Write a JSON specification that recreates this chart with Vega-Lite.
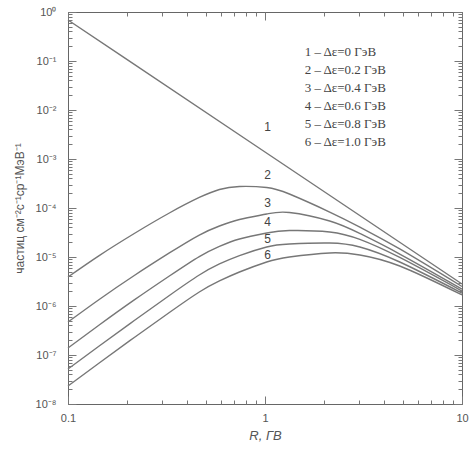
{
  "$schema": "https://vega.github.io/schema/vega-lite/v6.json",
  "width": 394,
  "height": 392,
  "autosize": "none",
  "padding": {"left": 68, "top": 12, "right": 11, "bottom": 48},
  "background": "white",
  "config": {
    "view": {"stroke": "#666", "strokeWidth": 1},
    "axis": {"grid": false, "domain": false, "labelOverlap": false, "labelFlush": false, "labelBound": false, "labelFont": "Liberation Sans", "labelFontSize": 11, "labelColor": "#555", "titleFont": "Liberation Sans", "titleFontWeight": "normal", "titleColor": "#555", "titleFontSize": 12}
  },
  "datasets": {
    "curves": [
      {"curve": 1, "R": 0.1, "v": 0.687},
      {"curve": 1, "R": 1, "v": 0.00139},
      {"curve": 1, "R": 10, "v": 0.00000281},
      {"curve": 2, "R": 0.1, "v": 3.91e-6},
      {"curve": 2, "R": 0.144, "v": 1.07e-5},
      {"curve": 2, "R": 0.217, "v": 3.02e-5},
      {"curve": 2, "R": 0.327, "v": 7.91e-5},
      {"curve": 2, "R": 0.464, "v": 1.64e-4},
      {"curve": 2, "R": 0.587, "v": 2.39e-4},
      {"curve": 2, "R": 0.742, "v": 2.75e-4},
      {"curve": 2, "R": 1.02, "v": 2.62e-4},
      {"curve": 2, "R": 1.33, "v": 1.93e-4},
      {"curve": 2, "R": 2.13, "v": 8.28e-5},
      {"curve": 2, "R": 3.03, "v": 4.09e-5},
      {"curve": 2, "R": 4.83, "v": 1.46e-5},
      {"curve": 2, "R": 10, "v": 2.50e-6},
      {"curve": 3, "R": 0.1, "v": 4.71e-7},
      {"curve": 3, "R": 0.144, "v": 1.36e-6},
      {"curve": 3, "R": 0.217, "v": 4.19e-6},
      {"curve": 3, "R": 0.327, "v": 1.21e-5},
      {"curve": 3, "R": 0.464, "v": 2.81e-5},
      {"curve": 3, "R": 0.587, "v": 4.29e-5},
      {"curve": 3, "R": 0.742, "v": 5.82e-5},
      {"curve": 3, "R": 1.02, "v": 7.55e-5},
      {"curve": 3, "R": 1.33, "v": 8.10e-5},
      {"curve": 3, "R": 2.13, "v": 5.43e-5},
      {"curve": 3, "R": 3.03, "v": 3.02e-5},
      {"curve": 3, "R": 4.83, "v": 1.15e-5},
      {"curve": 3, "R": 10, "v": 2.22e-6},
      {"curve": 4, "R": 0.1, "v": 1.39e-7},
      {"curve": 4, "R": 0.144, "v": 4.09e-7},
      {"curve": 4, "R": 0.217, "v": 1.33e-6},
      {"curve": 4, "R": 0.327, "v": 4.09e-6},
      {"curve": 4, "R": 0.464, "v": 1.02e-5},
      {"curve": 4, "R": 0.587, "v": 1.64e-5},
      {"curve": 4, "R": 0.742, "v": 2.33e-5},
      {"curve": 4, "R": 1.02, "v": 3.09e-5},
      {"curve": 4, "R": 1.33, "v": 3.47e-5},
      {"curve": 4, "R": 2.13, "v": 3.24e-5},
      {"curve": 4, "R": 3.03, "v": 2.28e-5},
      {"curve": 4, "R": 4.83, "v": 9.77e-6},
      {"curve": 4, "R": 10, "v": 2.02e-6},
      {"curve": 5, "R": 0.1, "v": 5.18e-8},
      {"curve": 5, "R": 0.144, "v": 1.53e-7},
      {"curve": 5, "R": 0.217, "v": 5.06e-7},
      {"curve": 5, "R": 0.327, "v": 1.64e-6},
      {"curve": 5, "R": 0.464, "v": 4.29e-6},
      {"curve": 5, "R": 0.587, "v": 7.20e-6},
      {"curve": 5, "R": 0.742, "v": 1.07e-5},
      {"curve": 5, "R": 1.02, "v": 1.60e-5},
      {"curve": 5, "R": 1.33, "v": 1.84e-5},
      {"curve": 5, "R": 2.13, "v": 1.93e-5},
      {"curve": 5, "R": 3.03, "v": 1.60e-5},
      {"curve": 5, "R": 4.83, "v": 7.91e-6},
      {"curve": 5, "R": 10, "v": 1.84e-6},
      {"curve": 6, "R": 0.1, "v": 2.33e-8},
      {"curve": 6, "R": 0.144, "v": 6.87e-8},
      {"curve": 6, "R": 0.217, "v": 2.28e-7},
      {"curve": 6, "R": 0.327, "v": 7.36e-7},
      {"curve": 6, "R": 0.464, "v": 1.93e-6},
      {"curve": 6, "R": 0.587, "v": 3.24e-6},
      {"curve": 6, "R": 0.742, "v": 4.94e-6},
      {"curve": 6, "R": 1.02, "v": 7.91e-6},
      {"curve": 6, "R": 1.33, "v": 1.00e-5},
      {"curve": 6, "R": 2.13, "v": 1.21e-5},
      {"curve": 6, "R": 3.03, "v": 1.10e-5},
      {"curve": 6, "R": 4.83, "v": 6.55e-6},
      {"curve": 6, "R": 10, "v": 1.68e-6}
    ],
    "labels": [
      {"t": "1", "R": 1.03, "v": 0.0045},
      {"t": "2", "R": 1.03, "v": 0.000471},
      {"t": "3", "R": 1.03, "v": 0.000126},
      {"t": "4", "R": 1.03, "v": 0.0000518},
      {"t": "5", "R": 1.03, "v": 0.0000233},
      {"t": "6", "R": 1.03, "v": 0.000011}
    ],
    "legend": [
      {"t": "1 – Δε=0 ГэВ", "R": 1.59, "v": 0.153},
      {"t": "2 – Δε=0.2 ГэВ", "R": 1.59, "v": 0.0655},
      {"t": "3 – Δε=0.4 ГэВ", "R": 1.59, "v": 0.0281},
      {"t": "4 – Δε=0.6 ГэВ", "R": 1.59, "v": 0.0121},
      {"t": "5 – Δε=0.8 ГэВ", "R": 1.59, "v": 0.00518},
      {"t": "6 – Δε=1.0 ГэВ", "R": 1.59, "v": 0.00222}
    ]
  },
  "layer": [
    {
      "data": {"name": "curves"},
      "mark": {"type": "line", "interpolate": "natural", "color": "#777", "strokeWidth": 1.4},
      "encoding": {
        "x": {"field": "R", "type": "quantitative", "scale": {"type": "log", "domain": [0.1, 10], "nice": false},
          "axis": {"orient": "bottom", "zindex": 1, "tickColor": "#777", "tickWidth": 1, "tickSize": -4, "labelPadding": 12,
            "title": "R, ГВ", "titleFontStyle": "italic", "titleFontSize": 13, "titlePadding": 6,
            "labelExpr": "abs(log(datum.value)/LN10 - round(log(datum.value)/LN10)) < 0.01 ? (datum.value < 0.5 ? '0.1' : datum.value < 5 ? '1' : '10') : ''"}},
        "y": {"field": "v", "type": "quantitative", "scale": {"type": "log", "domain": [1e-8, 1], "nice": false},
          "axis": {"orient": "left", "zindex": 1, "tickColor": "#777", "tickWidth": 1, "tickSize": -4, "labelPadding": 16,
            "title": "частиц см⁻²с⁻¹ср⁻¹МэВ⁻¹", "titlePadding": 9,
            "labelExpr": "abs(log(datum.value)/LN10 - round(log(datum.value)/LN10)) < 0.01 ? ['10⁰','10⁻¹','10⁻²','10⁻³','10⁻⁴','10⁻⁵','10⁻⁶','10⁻⁷','10⁻⁸'][round(-log(datum.value)/LN10)] : ''"}},
        "detail": {"field": "curve", "type": "nominal"}
      }
    },
    {
      "data": {"name": "labels"},
      "mark": {"type": "text", "font": "Liberation Sans", "fontSize": 12, "color": "#444", "align": "center", "baseline": "middle"},
      "encoding": {
        "x": {"field": "R", "type": "quantitative",
          "axis": {"orient": "top", "zindex": 1, "tickColor": "#777", "tickWidth": 1, "tickSize": -4, "title": null, "labels": false}},
        "y": {"field": "v", "type": "quantitative",
          "axis": {"orient": "right", "zindex": 1, "tickColor": "#777", "tickWidth": 1, "tickSize": -4, "title": null, "labels": false}},
        "text": {"field": "t"}
      }
    },
    {
      "data": {"name": "legend"},
      "mark": {"type": "text", "font": "Liberation Serif", "fontSize": 13, "color": "#444", "align": "left", "baseline": "middle"},
      "encoding": {
        "x": {"field": "R", "type": "quantitative",
          "axis": {"orient": "bottom", "zindex": 1, "tickColor": "#777", "tickWidth": 1, "tickSize": -8, "title": null, "labels": false,
            "tickOpacity": {"condition": {"test": "abs(log(datum.value)/LN10 - round(log(datum.value)/LN10)) < 0.01", "value": 1}, "value": 0}}},
        "y": {"field": "v", "type": "quantitative",
          "axis": {"orient": "left", "zindex": 1, "tickColor": "#777", "tickWidth": 1, "tickSize": -8, "title": null, "labels": false,
            "tickOpacity": {"condition": {"test": "abs(log(datum.value)/LN10 - round(log(datum.value)/LN10)) < 0.01", "value": 1}, "value": 0}}},
        "text": {"field": "t"}
      }
    },
    {
      "data": {"name": "labels"},
      "mark": {"type": "text", "opacity": 0},
      "encoding": {
        "x": {"field": "R", "type": "quantitative",
          "axis": {"orient": "top", "zindex": 1, "tickColor": "#777", "tickWidth": 1, "tickSize": -8, "title": null, "labels": false,
            "tickOpacity": {"condition": {"test": "abs(log(datum.value)/LN10 - round(log(datum.value)/LN10)) < 0.01", "value": 1}, "value": 0}}},
        "y": {"field": "v", "type": "quantitative",
          "axis": {"orient": "right", "zindex": 1, "tickColor": "#777", "tickWidth": 1, "tickSize": -8, "title": null, "labels": false,
            "tickOpacity": {"condition": {"test": "abs(log(datum.value)/LN10 - round(log(datum.value)/LN10)) < 0.01", "value": 1}, "value": 0}}},
        "text": {"value": ""}
      }
    }
  ],
  "resolve": {"axis": {"x": "independent", "y": "independent"}}
}
